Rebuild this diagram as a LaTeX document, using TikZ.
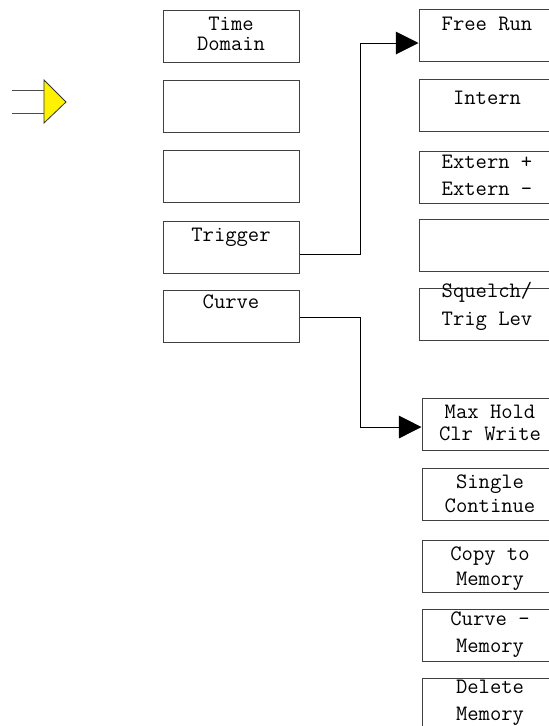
\documentclass[tikz,border=0pt]{standalone}
\usepackage{fontspec}
\usetikzlibrary{arrows.meta, positioning, calc}

\tikzset{
  softkey/.style={draw=black!75, line width=0.75pt, minimum width=102pt,
                  minimum height=39pt, inner sep=0pt},
  keytext/.style={font=\ttfamily\fontsize{16.5pt}{19pt}\selectfont,
                  anchor=base, inner sep=0pt},
  link/.style={draw=black, line width=0.75pt,
               -{Triangle[length=17pt,width=17pt]}},
}

\begin{document}
\begin{tikzpicture}[x=0.75pt, y=-0.75pt]
  \useasboundingbox (0,0) rectangle (549,726);
  \clip (0,0) rectangle (549,726);
  % yellow side arrow
  \draw[black!70, line width=0.75pt] (12,90) -- (44,90) (12,113) -- (44,113);
  \filldraw[fill=yellow, draw=black!80, line width=0.6pt]
    (44,80) -- (66,102) -- (44,123) -- cycle;
  % left menu column
  \foreach \name/\y in {time/36, blankA/106, blankB/176, trig/247, curve/316}
    \node[softkey] (\name) at (231,\y) {};
  % right menu, trigger keys
  \foreach \name/\y in {free/35, intern/105, extern/177, blankC/245.5, squelch/314.5}
    \node[softkey] (\name) at (487,\y) {};
  % right menu, curve keys
  \foreach \name/\y in {maxhold/424.5, single/494.5, copy/566.5, minus/635.5, delete/704}
    \node[softkey] (\name) at (490,\y) {};
  % key labels, one line each
  \foreach \x/\y/\t [count=\n] in {231/30/Time, 231/50/Domain, 231/241/Trigger,
      231/308/Curve, 487/30/{Free Run}, 487/104/Intern, 487/168/{Extern +},
      487/195/{Extern -}, 487/297/{Squelch/}, 487/325/{Trig Lev},
      490/418/{Max Hold}, 490/440/{Clr Write}, 490/488/Single, 490/512/Continue,
      490/560/{Copy to}, 490/585/Memory, 490/625/{Curve -}, 490/652/Memory,
      490/693/Delete, 490/720/Memory}
    \node[keytext] (txt\n) at (\x,\y) {\t};
  % submenu links
  \draw[link] ([yshift=-5.25pt]trig.east) -- ++(61,0) |- ([yshift=-6pt]free.west);
  \draw[link] ([yshift=-0.75pt]curve.east) -- ++(61,0) |- ([yshift=-1.9pt]maxhold.west);
\end{tikzpicture}
\end{document}
